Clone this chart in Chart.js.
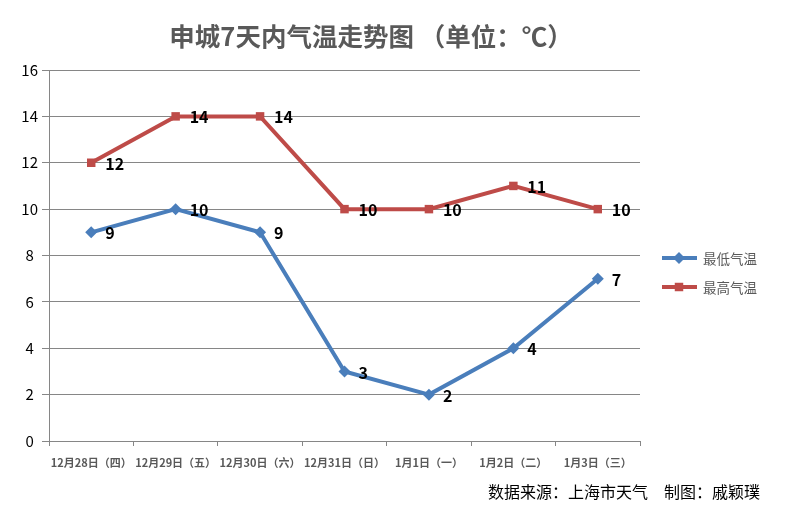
<!DOCTYPE html>
<html><head><meta charset="utf-8">
<script src="https://cdn.jsdelivr.net/npm/chart.js@4/dist/chart.umd.min.js"></script>
<style>html,body{margin:0;padding:0;background:#fff}#w{width:787px;height:509px}</style>
</head><body><div id="w"><canvas id="c"></canvas></div>
<script>
const categories = ['12月28日（四）','12月29日（五）','12月30日（六）','12月31日（日）','1月1日（一）','1月2日（二）','1月3日（三）'];
const lowTemps = [9, 10, 9, 3, 2, 4, 7];
const highTemps = [12, 14, 14, 10, 10, 11, 10];
const seriesNames = ['最低气温', '最高气温'];
const titleText = '申城7天内气温走势图 （单位：℃）';
const footerText = '数据来源：上海市天气　制图：戚颖璞';
const FONT = '"Noto Sans CJK SC", "Noto Sans", sans-serif';

const textPlugin = {
  id: 'texts',
  afterDatasetsDraw(chart) {
    const ctx = chart.ctx;
    ctx.save();
    // data labels
    ctx.font = 'bold 16px ' + FONT;
    ctx.fillStyle = '#000';
    ctx.textAlign = 'left';
    ctx.textBaseline = 'middle';
    chart.data.datasets.forEach((ds, i) => {
      chart.getDatasetMeta(i).data.forEach((pt, j) => {
        ctx.fillText(String(ds.data[j]), pt.x + 14, pt.y + 1);
      });
    });
    // title
    ctx.font = 'bold 25.5px ' + FONT;
    ctx.fillStyle = '#595959';
    ctx.textAlign = 'center';
    ctx.fillText(titleText, 371, 36);
    // legend
    const items = [
      {name: seriesNames[0], color: '#4a7ebb', style: 'rectRot', y: 258},
      {name: seriesNames[1], color: '#be4b48', style: 'rect', y: 287}
    ];
    items.forEach(it => {
      ctx.strokeStyle = it.color;
      ctx.lineWidth = 4;
      ctx.beginPath(); ctx.moveTo(662, it.y); ctx.lineTo(697, it.y); ctx.stroke();
      ctx.fillStyle = it.color;
      Chart.helpers.drawPoint(ctx, {pointStyle: it.style, radius: 6, borderWidth: 0}, 679, it.y);
      ctx.fillStyle = '#595959';
      ctx.font = '13.5px ' + FONT;
      ctx.textAlign = 'left';
      ctx.fillText(it.name, 703, it.y + 1);
    });
    // footer
    ctx.fillStyle = '#000';
    ctx.font = '16px ' + FONT;
    ctx.textAlign = 'left';
    ctx.fillText(footerText, 488, 492);
    ctx.restore();
  }
};

new Chart(document.getElementById('c'), {
  type: 'line',
  data: {
    labels: categories,
    datasets: [
      {label: seriesNames[0], data: lowTemps, borderColor: '#4a7ebb', backgroundColor: '#4a7ebb',
       borderWidth: 4, pointStyle: 'rectRot', pointRadius: 6, pointBorderWidth: 0, tension: 0},
      {label: seriesNames[1], data: highTemps, borderColor: '#be4b48', backgroundColor: '#be4b48',
       borderWidth: 4, pointStyle: 'rect', pointRadius: 6, pointBorderWidth: 0, tension: 0}
    ]
  },
  options: {
    responsive: true, maintainAspectRatio: false, animation: false,
    layout: {padding: {top: 70, right: 147, left: 0, bottom: 0}},
    plugins: {legend: {display: false}, title: {display: false}, tooltip: {enabled: false}},
    scales: {
      x: {
        offset: true,
        grid: {offset: true, drawOnChartArea: false, drawTicks: true, tickLength: 5, color: '#868686'},
        border: {color: '#868686', width: 1},
        ticks: {font: {size: 11, weight: 'bold', family: FONT}, color: '#595959', maxRotation: 0, autoSkip: false, padding: 10},
        afterFit(s) { s.height = 68; }
      },
      y: {
        min: 0, max: 16,
        ticks: {stepSize: 2, font: {size: 15, family: FONT}, color: '#000', crossAlign: 'center', padding: 4},
        grid: {color: '#868686', tickLength: 7},
        border: {color: '#868686', width: 1},
        afterFit(s) { s.width = 49; }
      }
    }
  },
  plugins: [textPlugin]
});
</script></body></html>
